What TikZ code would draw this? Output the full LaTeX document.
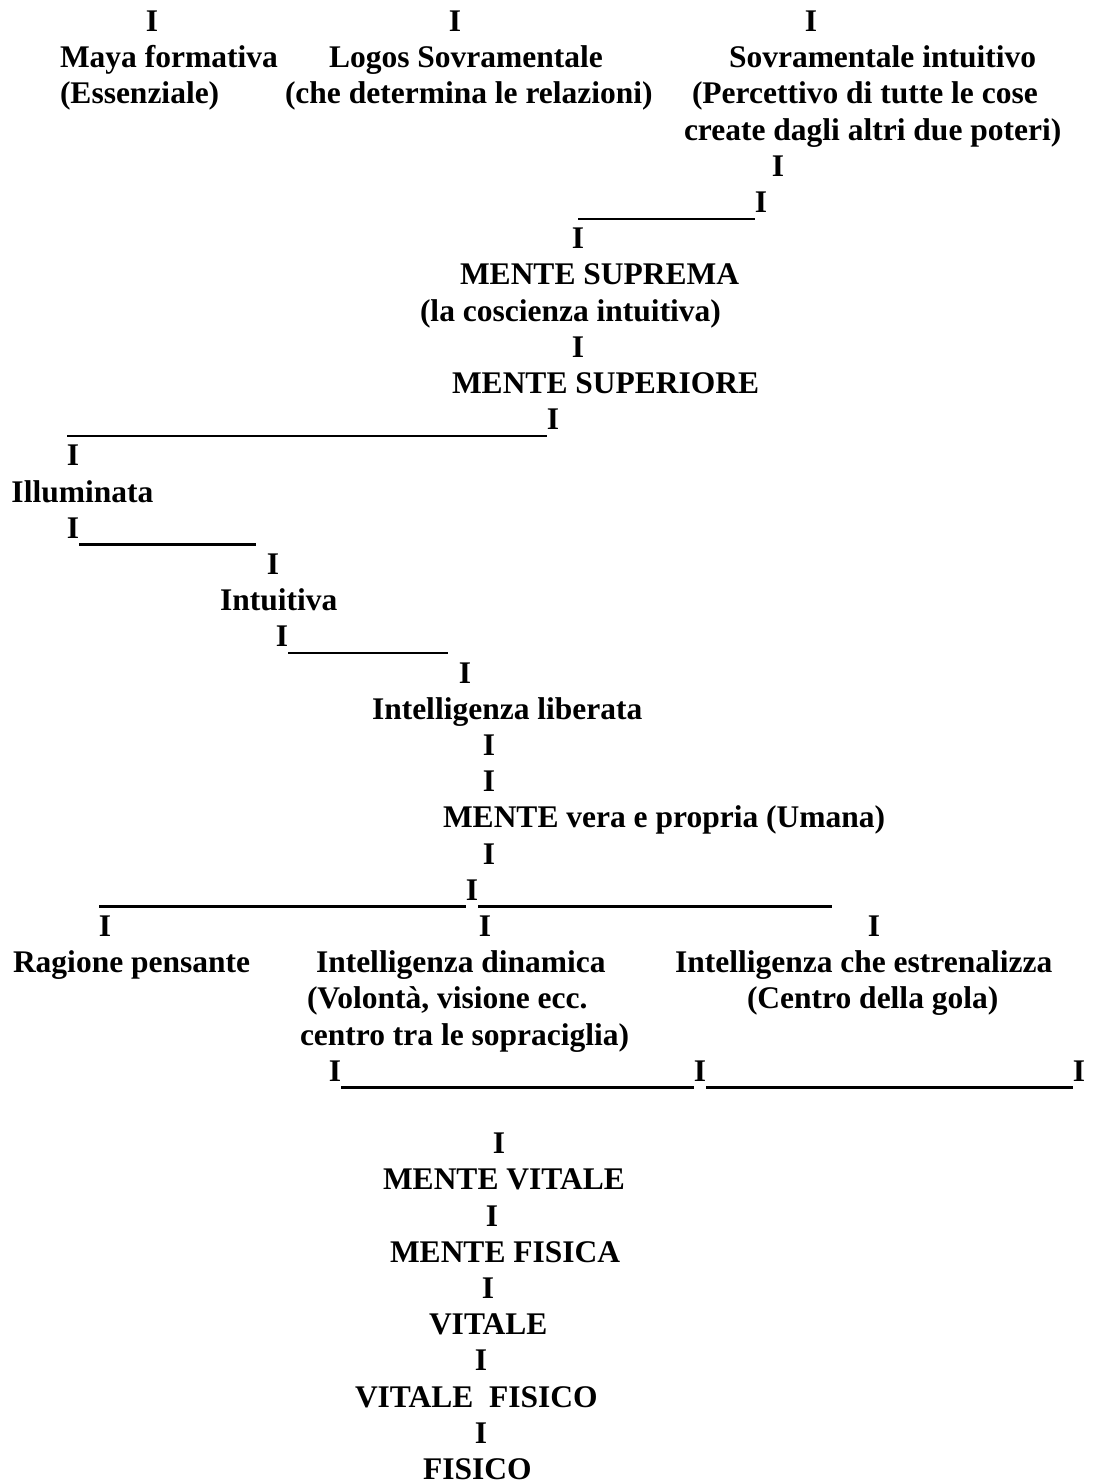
\documentclass[tikz,border=0pt]{standalone}
\usepackage{fontspec}
\setmainfont{Liberation Serif}[BoldFont={Liberation Serif Bold}]
\newcommand\rowB[1]{(31.5+(#1-1)*36.2)}
\begin{document}
\begin{tikzpicture}[x=1pt,y=-1pt,
  lbl/.style={inner sep=0pt,outer sep=0pt,anchor=base west,font=\fontsize{31.5}{36}\selectfont\bfseries},
  bar/.style={inner sep=0pt,outer sep=0pt,anchor=base,font=\fontsize{31.5}{36}\selectfont\bfseries},
  rule/.style={line width=2.4pt}]
\useasboundingbox (0,0) rectangle (1093,1481);
% row 1-4
\node[bar] (i1a) at (152,{\rowB{1}}) {I};
\node[bar] (i1b) at (455,{\rowB{1}}) {I};
\node[bar] (i1c) at (811,{\rowB{1}}) {I};
\node[lbl] (maya) at (60,{\rowB{2}}) {Maya formativa};
\node[lbl] (logos) at (329,{\rowB{2}}) {Logos Sovramentale};
\node[lbl] (sovint) at (729,{\rowB{2}}) {Sovramentale intuitivo};
\node[lbl] (ess) at (60,{\rowB{3}}) {(Essenziale)};
\node[lbl] (rel) at (285,{\rowB{3}}) {(che determina le relazioni)};
\node[lbl] (perc) at (692,{\rowB{3}}) {(Percettivo di tutte le cose};
\node[lbl] (creat) at (684,{\rowB{4}}) {create dagli altri due poteri)};
% row 5-11
\node[bar] (i5) at (778,{\rowB{5}}) {I};
\node[bar] (i6) at (761,{\rowB{6}}) {I};
\coordinate (e6) at (578,{\rowB{6}+6.2});
\node[bar] (i7) at (578,{\rowB{7}}) {I};
\node[lbl] (suprema) at (460,{\rowB{8}}) {MENTE SUPREMA};
\node[lbl] (cosc) at (420,{\rowB{9}}) {(la coscienza intuitiva)};
\node[bar] (i10) at (578,{\rowB{10}}) {I};
\node[lbl] (superiore) at (452,{\rowB{11}}) {MENTE SUPERIORE};
% row 12-19
\node[bar] (i12) at (553,{\rowB{12}}) {I};
\coordinate (e12) at (67,{\rowB{12}+6.2});
\node[bar] (i13) at (73,{\rowB{13}}) {I};
\node[lbl] (illum) at (11.5,{\rowB{14}}) {Illuminata};
\node[bar] (i15) at (73,{\rowB{15}}) {I};
\coordinate (f15) at (255.6,{\rowB{15}+6.2});
\node[bar] (i16) at (273,{\rowB{16}}) {I};
\node[lbl] (intuit) at (220,{\rowB{17}}) {Intuitiva};
\node[bar] (i18) at (282,{\rowB{18}}) {I};
\coordinate (f18) at (448,{\rowB{18}+6.2});
\node[bar] (i19) at (465,{\rowB{19}}) {I};
% row 20-30
\node[lbl] (libera) at (372,{\rowB{20}}) {Intelligenza liberata};
\node[bar] (i21) at (489,{\rowB{21}}) {I};
\node[bar] (i22) at (489,{\rowB{22}}) {I};
\node[lbl] (umana) at (443,{\rowB{23}}) {MENTE vera e propria (Umana)};
\node[bar] (i24) at (489,{\rowB{24}}) {I};
\node[bar] (i25) at (472,{\rowB{25}}) {I};
\coordinate (e25) at (99,{\rowB{25}+6.2});
\coordinate (f25) at (832,{\rowB{25}+6.2});
\node[bar] (i26a) at (105,{\rowB{26}}) {I};
\node[bar] (i26b) at (485,{\rowB{26}}) {I};
\node[bar] (i26c) at (874,{\rowB{26}}) {I};
\node[lbl] (ragione) at (13,{\rowB{27}}) {Ragione pensante};
\node[lbl] (dinam) at (316,{\rowB{27}}) {Intelligenza dinamica};
\node[lbl] (estr) at (675,{\rowB{27}}) {Intelligenza che estrenalizza};
\node[lbl] (volonta) at (307,{\rowB{28}}) {(Volontà, visione ecc.};
\node[lbl] (gola) at (747,{\rowB{28}}) {(Centro della gola)};
\node[lbl] (sopra) at (300,{\rowB{29}}) {centro tra le sopraciglia)};
\node[bar] (i30a) at (335,{\rowB{30}}) {I};
\node[bar] (i30b) at (700,{\rowB{30}}) {I};
\node[bar] (i30c) at (1079,{\rowB{30}}) {I};
% row 32-41
\node[bar] (i32) at (499,{\rowB{32}}) {I};
\node[lbl] (mvitale) at (383,{\rowB{33}}) {MENTE VITALE};
\node[bar] (i34) at (492,{\rowB{34}}) {I};
\node[lbl] (mfisica) at (390,{\rowB{35}}) {MENTE FISICA};
\node[bar] (i36) at (488,{\rowB{36}}) {I};
\node[lbl] (vitale) at (429,{\rowB{37}}) {VITALE};
\node[bar] (i38) at (481,{\rowB{38}}) {I};
\node[lbl] (vfisico) at (355,{\rowB{39}}) {VITALE\ \ FISICO};
\node[bar] (i40) at (481,{\rowB{40}}) {I};
\node[lbl] (fisico) at (423,{\rowB{41}}) {FISICO};
% rules (underscores)
\draw[rule] (e6) -- ([yshift=-6.2pt]i6.base west);
\draw[rule] (e12) -- ([yshift=-6.2pt]i12.base west);
\draw[rule] ([yshift=-6.2pt]i15.base east) -- (f15);
\draw[rule] ([yshift=-6.2pt]i18.base east) -- (f18);
\draw[rule] (e25) -- ([yshift=-6.2pt]i25.base west);
\draw[rule] ([yshift=-6.2pt]i25.base east) -- (f25);
\draw[rule] ([yshift=-6.2pt]i30a.base east) -- ([yshift=-6.2pt]i30b.base west);
\draw[rule] ([yshift=-6.2pt]i30b.base east) -- ([yshift=-6.2pt]i30c.base west);
\end{tikzpicture}
\end{document}
